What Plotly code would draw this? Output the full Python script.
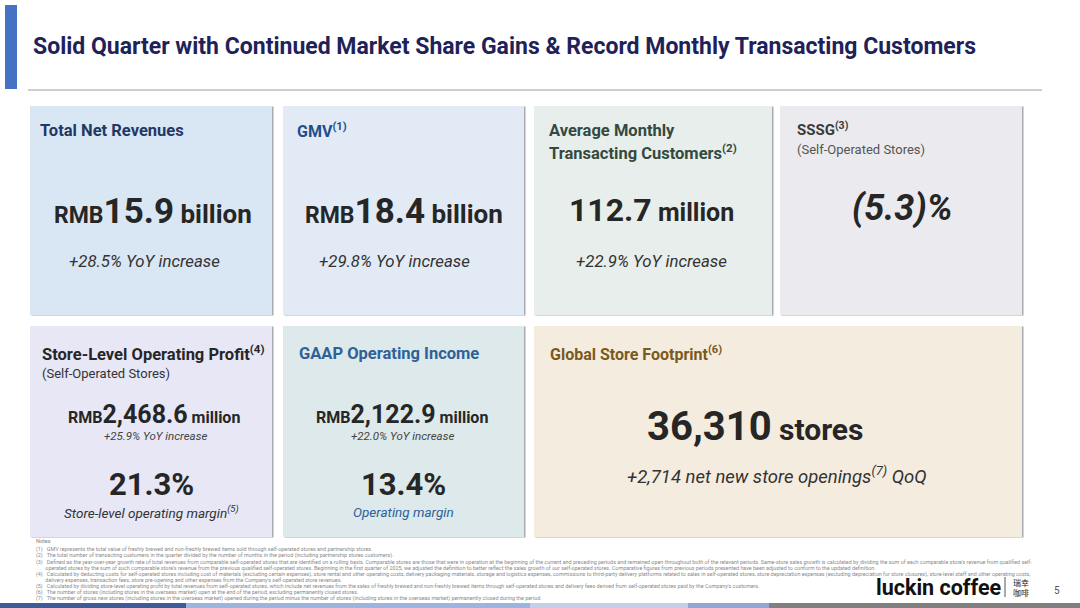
import plotly.graph_objects as go

# headline figures for the quarter
revenue_bn = 15.9
revenue_yoy = 28.5
gmv_bn = 18.4
gmv_yoy = 29.8
mtc_mn = 112.7
mtc_yoy = 22.9
sssg_pct = -5.3

store_profit_mn = 2468.6
store_profit_yoy = 25.9
store_margin = 21.3
gaap_income_mn = 2122.9
gaap_income_yoy = 22.0
gaap_margin = 13.4

stores_total = 36310
net_new_stores = 2714

slide_title = "Solid Quarter with Continued Market Share Gains & Record Monthly Transacting Customers"

notes = [
    "(1)   GMV represents the total value of freshly brewed and non-freshly brewed items sold through self-operated stores and partnership stores.",
    "(2)   The total number of transacting customers in the quarter divided by the number of months in the period (including partnership stores customers).",
    "(3)   Defined as the year-over-year growth rate of total revenues from comparable self-operated stores that are identified on a rolling basis. Comparable stores are those that were in operation at the beginning of the current and preceding periods and remained open throughout both of the relevant periods. Same-store sales growth is calculated by dividing the sum of each comparable store's revenue from qualified self-",
    "       operated stores by the sum of such comparable store's revenue from the previous qualified self-operated stores. Beginning in the first quarter of 2025, we adjusted the definition to better reflect the sales growth of our self-operated stores. Comparative figures from previous periods presented have been adjusted to conform to the updated definition.",
    "(4)   Calculated by deducting costs for self-operated stores including cost of materials (excluding certain expenses), store rental and other operating costs, delivery packaging materials, storage and logistics expenses, commissions to third-party delivery platforms related to sales in self-operated stores, store depreciation expenses (excluding depreciation for store closures), store-level staff and other operating costs,",
    "       delivery expenses, transaction fees, store pre-opening and other expenses from the Company's self-operated store revenues.",
    "(5)   Calculated by dividing store-level operating profit by total revenues from self-operated stores, which include net revenues from the sales of freshly brewed and non-freshly brewed items through self-operated stores and delivery fees derived from self-operated stores paid by the Company's customers.",
    "(6)   The number of stores (including stores in the overseas market) open at the end of the period, excluding permanently closed stores.",
    "(7)   The number of gross new stores (including stores in the overseas market) opened during the period minus the number of stores (including stores in the overseas market) permanently closed during the period.",
]

FONT = "Roboto"
DARK = "#262626"

fig = go.Figure()


def card(x0, y0, x1, y1, fill):
    # thin shadow on the right edge, then the card itself
    fig.add_shape(type="rect", x0=x0 + 1.5, y0=y0 + 0.5, x1=x1 + 1.5, y1=y1 + 0.5,
                  fillcolor="#a9abb0", line_width=0, layer="below")
    fig.add_shape(type="rect", x0=x0, y0=y0, x1=x1, y1=y1,
                  fillcolor=fill, line_width=0, layer="below")


def text(x, y, s, size, color=DARK, anchor="left", family=FONT):
    fig.add_annotation(x=x, y=y, text=s, showarrow=False, xanchor=anchor, yanchor="middle",
                       font=dict(family=family, size=size, color=color), align=anchor)


# header
fig.add_shape(type="rect", x0=5, y0=5, x1=17, y1=89, fillcolor="#4472c4", line_width=0)
fig.add_shape(type="line", x0=28, y0=90, x1=1042, y1=90, line=dict(color="#9a9ca8", width=1))
text(31, 46, f"<b>{slide_title}</b>", 23, "#1f2259")

# cards
card(30, 106, 272, 315, "#d9e6f4")
card(283, 106, 524, 315, "#e2eaf5")
card(534, 106, 772, 315, "#e8eeeb")
card(780, 106, 1022, 315, "#ebebef")
card(30, 326, 272, 537, "#e7e7f6")
card(283, 326, 524, 537, "#dde9ea")
card(534, 326, 1022, 537, "#f5ece0")

# top row
text(38, 130, "<b>Total Net Revenues</b>", 16.5, "#1f3864")
text(153, 211, f"<b><span style='font-size:23px'>RMB</span>{revenue_bn}<span style='font-size:26px'> billion</span></b>", 35, DARK, "center")
text(144, 261, f"<i>+{revenue_yoy}% YoY increase</i>", 16.8, "#333333", "center")

text(295, 130, "<b>GMV<sup>(1)</sup></b>", 16, "#1f4e8c")
text(404, 211, f"<b><span style='font-size:23px'>RMB</span>{gmv_bn}<span style='font-size:26px'> billion</span></b>", 35, DARK, "center")
text(394, 261, f"<i>+{gmv_yoy}% YoY increase</i>", 16.8, "#333333", "center")

text(547, 130, "<b>Average Monthly</b>", 16.5, "#34493f")
text(547, 152, "<b>Transacting Customers<sup>(2)</sup></b>", 16.5, "#34493f")
text(651, 210, f"<b>{mtc_mn}<span style='font-size:25px'> million</span></b>", 32, DARK, "center")
text(651, 261, f"<i>+{mtc_yoy}% YoY increase</i>", 16.8, "#333333", "center")

text(795, 129, "<b>SSSG<sup>(3)</sup></b>", 15, "#3a3a3a")
text(795, 149, "(Self-Operated Stores)", 13, "#555555")
text(902, 208, f"<b><i>({abs(sssg_pct)})%</i></b>", 36, DARK, "center")

# bottom row
text(40, 353, "<b>Store-Level Operating Profit<sup>(4)</sup></b>", 16.5, DARK)
text(40, 373, "(Self-Operated Stores)", 13, "#333333")
text(154, 414, f"<b><span style='font-size:16px'>RMB</span>{store_profit_mn:,.1f}<span style='font-size:16px'> million</span></b>", 25, DARK, "center")
text(155, 436, f"<i>+{store_profit_yoy}% YoY increase</i>", 11.5, "#444444", "center")
text(151, 484, f"<b>{store_margin}%</b>", 31, DARK, "center")
text(151, 512, "<i>Store-level operating margin<sup>(5)</sup></i>", 13.5, "#333333", "center")

text(297, 353, "<b>GAAP Operating Income</b>", 16.5, "#2e6199")
text(402, 414, f"<b><span style='font-size:16px'>RMB</span>{gaap_income_mn:,.1f}<span style='font-size:16px'> million</span></b>", 25, DARK, "center")
text(402, 436, f"<i>+{gaap_income_yoy:.1f}% YoY increase</i>", 11.5, "#444444", "center")
text(403, 484, f"<b>{gaap_margin}%</b>", 31, DARK, "center")
text(403, 512, "<i>Operating margin</i>", 13.5, "#2e6199", "center")

text(548, 353, "<b>Global Store Footprint<sup>(6)</sup></b>", 16, "#7a5a1c")
text(755, 426, f"<b>{stores_total:,}<span style='font-size:30px'> stores</span></b>", 40, DARK, "center")
text(777, 475, f"<i>+{net_new_stores:,} net new store openings<sup>(7)</sup> QoQ</i>", 18.5, "#333333", "center")

# footnotes
text(34, 541, "Notes", 5.5, "#7f7f7f")
note_y = [549, 555.5, 562, 568, 574, 580, 586, 592, 598]
for y, line in zip(note_y, notes):
    text(34, y, line, 5.4, "#8a8a8a")

# footer
text(874, 587, "<b>luckin coffee</b>", 21.5, "#111111")
fig.add_shape(type="line", x0=1005, y0=577, x1=1005, y1=597, line=dict(color="#555555", width=1))
text(1011, 582, "瑞幸", 8, "#222222", family="Noto Sans CJK SC")
text(1011, 592, "咖啡", 8, "#222222", family="Noto Sans CJK SC")
text(1057, 590, "5", 10, "#555555", "center")

bar_edges = [0, 186, 530, 688, 769, 1080]
bar_colors = ["#3d5a99", "#9ab5e0", "#c2d0ea", "#8fa6d6", "#808080"]
for x0, x1, c in zip(bar_edges[:-1], bar_edges[1:], bar_colors):
    fig.add_shape(type="rect", x0=x0, y0=603, x1=x1, y1=608, fillcolor=c, line_width=0)

fig.update_xaxes(range=[0, 1080], visible=False, fixedrange=True)
fig.update_yaxes(range=[608, 0], visible=False, fixedrange=True)
fig.update_layout(width=1080, height=608, margin=dict(l=0, r=0, t=0, b=0),
                  plot_bgcolor="white", paper_bgcolor="white", showlegend=False)

# the page body has a default 8px margin; drop it so the slide fills the window
fig.write_html("out.html", config={"displayModeBar": False},
               post_script="document.body.style.margin='0';")
